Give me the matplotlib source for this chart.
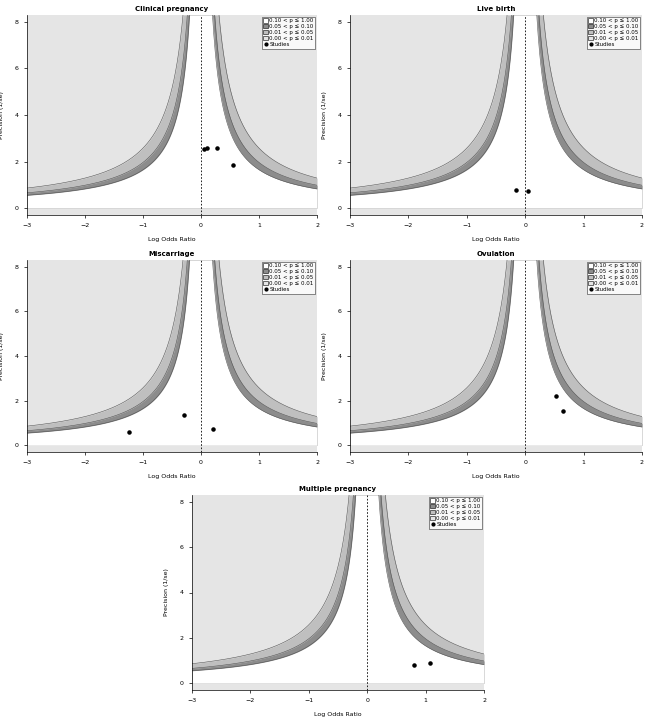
import numpy as np
import matplotlib
matplotlib.use("Agg")
import matplotlib.pyplot as plt
from matplotlib.patches import Patch
from matplotlib.lines import Line2D

titles = ["Clinical pregnancy", "Live birth", "Miscarriage", "Ovulation", "Multiple pregnancy"]
log_or = [[0.05, 0.10, 0.27, 0.55], [-0.15, 0.05], [-1.25, -0.30, 0.20], [0.53, 0.65], [0.80, 1.07]]
precision = [[2.55, 2.57, 2.57, 1.85], [0.78, 0.72], [0.60, 1.35, 0.75], [2.20, 1.55], [0.82, 0.87]]
z_cuts = [1.645, 1.96, 2.576]
fill_cols = ["white", "#8c8c8c", "#bfbfbf", "#e5e5e5"]
legend_labels = ["0.10 < p \u2264 1.00", "0.05 < p \u2264 0.10", "0.01 < p \u2264 0.05", "0.00 < p \u2264 0.01", "Studies"]

W, H = 650, 726
fig = plt.figure(figsize=(W/100, H/100), dpi=100)
boxes = [(27, 15, 290, 200), (350, 15, 292, 200), (27, 260, 290, 192), (350, 260, 292, 192), (192, 495, 292, 195)]

ymin, ymax = -0.3, 8.3
xs = np.linspace(-3, 2, 2000)
xs = xs[np.abs(xs) > 1e-4]
for i, (l, t, w, h) in enumerate(boxes):
    ax = fig.add_axes([l/W, 1-(t+h)/H, w/W, h/H])
    ax.set_facecolor(fill_cols[3])
    ax.set_xlim(-3, 2); ax.set_ylim(ymin, ymax)
    # fill from outermost to innermost
    for z, c in zip(reversed(z_cuts), reversed(fill_cols[:3])):
        lim = np.clip(z/np.abs(xs), 0, ymax)
        ax.fill_between(xs, 0, lim, color=c, lw=0)
    for z in z_cuts:
        lim = z/np.abs(xs)
        m = lim < ymax + 1
        ax.plot(xs[xs < 0][m[xs < 0]], lim[xs < 0][m[xs < 0]], color="#555555", lw=0.4)
        ax.plot(xs[xs > 0][m[xs > 0]], lim[xs > 0][m[xs > 0]], color="#555555", lw=0.4)
    ax.axvline(0, color="black", ls=(0, (2, 2)), lw=0.6)
    ax.scatter(log_or[i], precision[i], s=5, color="black", zorder=5)
    ax.set_title(titles[i], fontsize=5, fontweight="bold", pad=3)
    ax.set_xlabel("Log Odds Ratio", fontsize=4.5, labelpad=6)
    ax.set_ylabel("Precision (1/se)", fontsize=4.5, labelpad=8)
    ax.set_xticks([-3, -2, -1, 0, 1, 2]); ax.set_yticks([0, 2, 4, 6, 8])
    ax.tick_params(labelsize=4.5, length=2, width=0.5, pad=4)
    for s in ["top", "right"]:
        ax.spines[s].set_visible(False)
    for s in ["left", "bottom"]:
        ax.spines[s].set_linewidth(0.5)
    handles = [Patch(facecolor=c, edgecolor="black", lw=0.4) for c in fill_cols] + \
        [Line2D([], [], marker="o", color="black", ls="none", markersize=2)]
    leg = ax.legend(handles, legend_labels, loc="upper right", fontsize=4, frameon=True,
                    fancybox=False, edgecolor="black", handlelength=0.8, handleheight=0.8,
                    handletextpad=0.3, borderpad=0.3, labelspacing=0.15, borderaxespad=0.3)
    leg.get_frame().set_linewidth(0.4)

fig.savefig("out.png", dpi=100)
